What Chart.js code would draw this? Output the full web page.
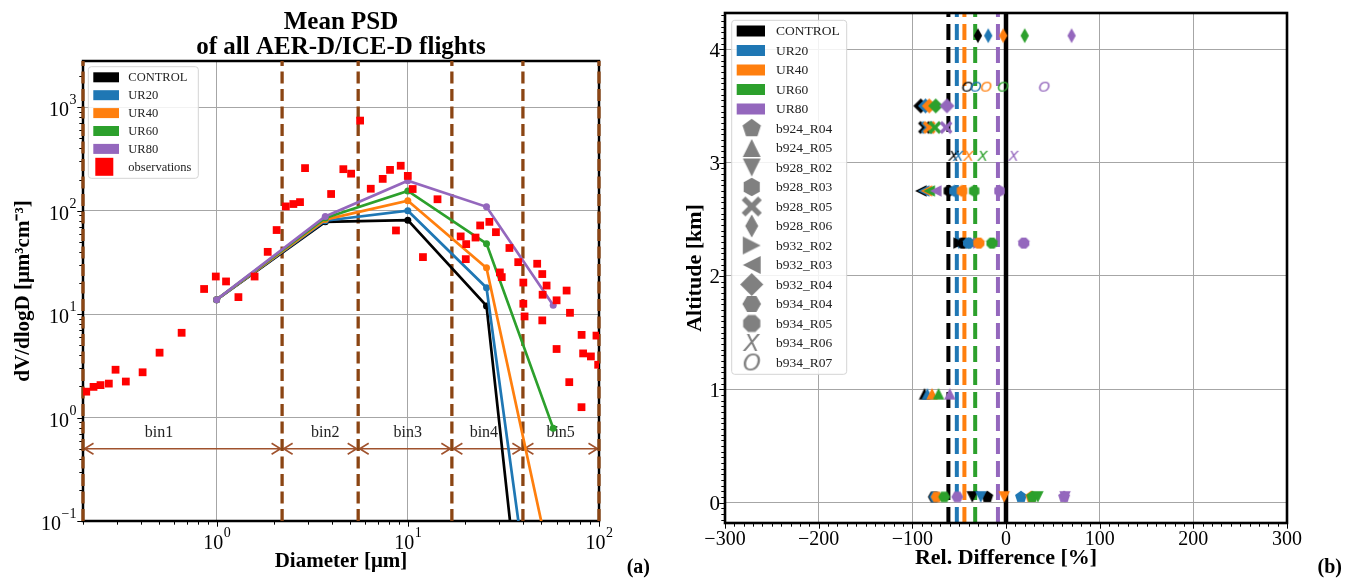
<!DOCTYPE html>
<html>
<head>
  <title>Mean PSD and relative difference</title>
  <script src="https://cdn.jsdelivr.net/npm/chart.js"></script>
  <style>
    body { margin: 0; background: #fff; overflow: hidden; }
    #wrap { position: relative; width: 1345px; height: 580px; }
    #wrap canvas { position: absolute; top: 0; }
    #psdChart { left: 0; }
    #diffChart { left: 665px; }
  </style>
</head>
<body>
<div id="wrap">
  <canvas id="psdChart" width="665" height="580"></canvas>
  <canvas id="diffChart" width="680" height="580"></canvas>
</div>
<script>
const SERIF = '"Liberation Serif", "Times New Roman", serif';
Chart.defaults.font.family = SERIF;
Chart.defaults.color = '#000';

const scenarios = ['CONTROL', 'UR20', 'UR40', 'UR60', 'UR80'];
const scenarioColors = ['#000000', '#1f77b4', '#ff7f0e', '#2ca02c', '#9467bd'];

// ---------- (a) mean PSD ----------
const modelD = [1, 3.7, 10, 25.8, 57.6];
const psdCONTROL = [13.8, 78, 81, 12, 1.5e-5];
const psdUR20 = [13.8, 80, 100, 18, 3.4e-4];
const psdUR40 = [13.8, 82, 125, 28, 0.029];
const psdUR60 = [13.8, 85, 155, 48, 0.79];
const psdUR80 = [13.8, 88, 195, 109, 12.2];

const obsD = [0.208, 0.227, 0.247, 0.273, 0.296, 0.335, 0.41, 0.503, 0.656, 0.86,
  0.99, 1.12, 1.3, 1.58, 1.85, 2.06, 2.3, 2.52, 2.73, 2.9,
  3.97, 4.6, 5.05, 5.63, 6.4, 7.39, 8.07, 9.18, 10, 10.6,
  8.67, 12, 14.3, 18.9, 20.2, 20.1, 22.6, 23.9, 26.7, 28.9,
  30.3, 31, 34, 37.8, 40.2, 40.2, 40.8, 47.5, 50.5, 53.2,
  50.7, 50.5, 60, 67.7, 70.5, 60, 81.1, 97, 82.6, 90.7,
  69.9, 81, 99];
const obsV = [1.78, 1.98, 2.06, 2.13, 2.9, 2.23, 2.74, 4.24, 6.6, 17.5,
  23.1, 20.7, 14.6, 23.1, 40, 65, 110, 116, 121, 258,
  145, 252, 228, 743, 163, 203, 248, 272, 217, 162,
  64.4, 35.6, 129, 56.4, 47.5, 34, 55, 72, 78, 62,
  25.3, 22.8, 43.6, 31.8, 20.2, 12.6, 9.5, 30.7, 24.4, 18.9,
  15.4, 8.7, 13.6, 16.9, 10.3, 4.6, 6.3, 6.2, 4.17, 3.9,
  2.2, 1.26, 3.24];

const binEdges = [0.2, 2.2, 5.5, 17, 40, 100];
const binNames = ['bin1', 'bin2', 'bin3', 'bin4', 'bin5'];
const binLabelD = [0.5, 3.7, 10, 25, 63];
const binArrowV = 0.5;
const binLabelV = 0.72;
const psdXDecades = [0, 1, 2];
const psdYDecades = [-1, 0, 1, 2, 3];

// ---------- (b) relative difference per flight leg ----------
const flights = ['b924_R04', 'b924_R05', 'b928_R02', 'b928_R03', 'b928_R05', 'b928_R06', 'b932_R02',
  'b932_R03', 'b932_R04', 'b934_R04', 'b934_R05', 'b934_R06', 'b934_R07'];
const flightMarker = ['p', '^', 'v', 'h', 'X', 'd', '>', '<', 'D', 'H', '8', '$X$', '$O$'];
const flightAlt = [0.05, 0.96, 0.05, 2.75, 3.31, 4.12, 2.29, 2.75, 3.5, 0.05, 2.29, 3.06, 3.67];
const relCONTROL = [-20, -87, -36, -61, -87, -30, -50, -91, -91, -77, -46, -56, -41];
const relUR20 = [16, -84, -27, -55, -84, -19, -45, -88, -86, -76, -40, -51, -32];
const relUR40 = [27, -79, -2, -47, -82, -3, -40, -85, -82, -74, -29, -40, -21];
const relUR60 = [28, -72, 34, -34, -76, 20, -34, -82, -75, -66, -15, -25, -3];
const relUR80 = [62, -60, 63, -7, -64, 70, -29, -75, -63, -52, 19, 8, 41];
const meanDiff = [-61.5, -52.5, -44.4, -32.9, -8.6];
const diffXTicks = [-300, -200, -100, 0, 100, 200, 300];
const altTicks = [0, 1, 2, 3, 4];

// ---------- helpers ----------
function logTicks(min, max) {
  const out = [];
  for (let d = Math.floor(Math.log10(min)); d <= Math.ceil(Math.log10(max)); d++) {
    for (let k = 1; k <= 9; k++) {
      const v = k * Math.pow(10, d);
      if (v >= min * 0.9999 && v <= max * 1.0001) out.push({ value: v, major: k === 1 });
    }
  }
  return out;
}

function linTicks(min, max, step, majors) {
  const out = [];
  for (let k = Math.ceil(min / step - 1e-9); k * step <= max + 1e-9; k++) {
    const v = +(k * step).toFixed(6);
    out.push({ value: v, major: majors.includes(v) });
  }
  return out;
}

const gridColor = c => (c.tick && c.tick.major) ? '#a6a6a6' : 'rgba(0,0,0,0)';

function drawFrame(chart, lw) {
  const { ctx, chartArea: a } = chart;
  ctx.save();
  ctx.strokeStyle = '#000';
  ctx.lineWidth = lw;
  ctx.strokeRect(a.left, a.top, a.right - a.left, a.bottom - a.top);
  ctx.restore();
}

function drawTicks(chart, majorLen, minorLen) {
  const { ctx, chartArea: a, scales: { x, y } } = chart;
  ctx.save();
  ctx.strokeStyle = '#000';
  ctx.lineWidth = 1;
  ctx.beginPath();
  x.ticks.forEach(t => {
    const px = Math.round(x.getPixelForValue(t.value)) + 0.5;
    ctx.moveTo(px, a.bottom);
    ctx.lineTo(px, a.bottom + 1.2 + (t.major ? majorLen : minorLen));
  });
  y.ticks.forEach(t => {
    const py = Math.round(y.getPixelForValue(t.value)) + 0.5;
    ctx.moveTo(a.left, py);
    ctx.lineTo(a.left - 1.2 - (t.major ? majorLen : minorLen), py);
  });
  ctx.stroke();
  ctx.restore();
}

// "10" with a raised exponent
function powLabel(ctx, exp, x, yBase, align) {
  const e = exp < 0 ? '\u2212' + (-exp) : String(exp);
  ctx.font = `20px ${SERIF}`;
  const w1 = ctx.measureText('10').width;
  ctx.font = `14px ${SERIF}`;
  const w2 = ctx.measureText(e).width;
  const x0 = align === 'center' ? x - (w1 + w2) / 2 : x - (w1 + w2);
  ctx.textAlign = 'left';
  ctx.textBaseline = 'alphabetic';
  ctx.font = `20px ${SERIF}`;
  ctx.fillText('10', x0, yBase);
  ctx.font = `14px ${SERIF}`;
  ctx.fillText(e, x0 + w1 + 0.5, yBase - 12);
}

function legendBox(ctx, x, y, w, h) {
  ctx.beginPath();
  if (ctx.roundRect) ctx.roundRect(x, y, w, h, 3); else ctx.rect(x, y, w, h);
  ctx.fillStyle = 'rgba(255,255,255,0.85)';
  ctx.fill();
  ctx.strokeStyle = '#d4d4d4';
  ctx.lineWidth = 1;
  ctx.stroke();
}

// filled marker shapes drawn once into small canvases, used as pointStyle
function markerCanvas(shape, color, size) {
  const c = document.createElement('canvas');
  const w = Math.ceil(size * 1.9) + 2;
  c.width = w;
  c.height = w;
  const g = c.getContext('2d');
  const r = size / 2;
  g.translate(w / 2, w / 2);
  g.fillStyle = color;
  if (shape[0] === '$') {
    const fs = size * 1.3;
    g.font = `italic ${fs}px "DejaVu Sans", sans-serif`;
    g.textAlign = 'center';
    g.textBaseline = 'alphabetic';
    g.fillText(shape[1], 0, fs * 0.365);
    return c;
  }
  const poly = pts => {
    g.beginPath();
    pts.forEach(([px, py], i) => i ? g.lineTo(px * r, py * r) : g.moveTo(px * r, py * r));
    g.closePath();
    g.fill();
  };
  const ngon = (n, rot) => Array.from({ length: n }, (_, k) => {
    const t = rot + k * 2 * Math.PI / n;
    return [Math.cos(t), Math.sin(t)];
  });
  switch (shape) {
    case '^': poly([[0, -1], [-1, 1], [1, 1]]); break;
    case 'v': poly([[0, 1], [-1, -1], [1, -1]]); break;
    case '<': poly([[-1, 0], [1, -1], [1, 1]]); break;
    case '>': poly([[1, 0], [-1, -1], [-1, 1]]); break;
    case 'p': poly(ngon(5, -Math.PI / 2)); break;
    case 'h': poly(ngon(6, -Math.PI / 2)); break;
    case 'H': poly(ngon(6, 0)); break;
    case '8': poly(ngon(8, Math.PI / 8)); break;
    case 'D': poly([[0, -1.15], [1.15, 0], [0, 1.15], [-1.15, 0]]); break;
    case 'd': poly([[0, -1.1], [0.62, 0], [0, 1.1], [-0.62, 0]]); break;
    case 'X': {
      const t = 0.3, L = 1.3;
      g.rotate(Math.PI / 4);
      poly([[-t, -L], [t, -L], [t, -t], [L, -t], [L, t], [t, t], [t, L], [-t, L], [-t, t], [-L, t], [-L, -t], [-t, -t]]);
      break;
    }
  }
  return c;
}

// ---------- chart (a) ----------
const psdModel = [psdCONTROL, psdUR20, psdUR40, psdUR60, psdUR80];
const psdMin = 0.1, psdMax = 2800;

const psdSets = [];
binEdges.forEach(e => psdSets.push({
  data: [{ x: e, y: psdMin }, { x: e, y: psdMax }],
  showLine: true, borderColor: '#8b4513', borderWidth: 3.3, borderDash: [12, 5.5],
  pointRadius: 0, clip: 4
}));
psdModel.forEach((vals, i) => psdSets.push({
  label: scenarios[i],
  data: modelD.map((d, j) => ({ x: d, y: vals[j] })),
  showLine: true, borderColor: scenarioColors[i], borderWidth: 2.7,
  pointRadius: 3.5, pointBorderWidth: 0, pointBackgroundColor: scenarioColors[i]
}));
psdSets.push({
  label: 'observations',
  data: obsD.map((d, j) => ({ x: d, y: obsV[j] })),
  pointStyle: 'rect', pointRadius: 5.5, pointBorderWidth: 0, pointBackgroundColor: '#ff0000'
});
psdSets.forEach((s, i) => { s.order = -i; });

const psdDecor = {
  id: 'psdDecor',
  beforeDatasetsDraw(chart) {
    const { ctx, scales: { x, y } } = chart;
    ctx.save();
    ctx.strokeStyle = '#a0522d';
    ctx.lineWidth = 1.6;
    const ay = y.getPixelForValue(binArrowV);
    for (let i = 0; i < binNames.length; i++) {
      const x1 = x.getPixelForValue(binEdges[i]) + 1.5;
      const x2 = x.getPixelForValue(binEdges[i + 1]) - 1.5;
      ctx.beginPath();
      ctx.moveTo(x1, ay); ctx.lineTo(x2, ay);
      ctx.moveTo(x1 + 9, ay - 5.5); ctx.lineTo(x1, ay); ctx.lineTo(x1 + 9, ay + 5.5);
      ctx.moveTo(x2 - 9, ay - 5.5); ctx.lineTo(x2, ay); ctx.lineTo(x2 - 9, ay + 5.5);
      ctx.stroke();
    }
    ctx.fillStyle = '#222';
    ctx.font = `16px ${SERIF}`;
    ctx.textAlign = 'center';
    ctx.textBaseline = 'middle';
    binNames.forEach((n, i) => ctx.fillText(n, x.getPixelForValue(binLabelD[i]), y.getPixelForValue(binLabelV)));
    ctx.restore();
    drawFrame(chart, 2.5);
    drawTicks(chart, 4.5, 2.5);
  },
  afterDatasetsDraw(chart) {
    const { ctx, chartArea: a, scales: { x, y } } = chart;
    ctx.save();
    ctx.fillStyle = '#000';
    psdXDecades.forEach(d => powLabel(ctx, d, x.getPixelForValue(Math.pow(10, d)), a.bottom + 28, 'center'));
    psdYDecades.forEach(d => powLabel(ctx, d, a.left - 7, y.getPixelForValue(Math.pow(10, d)) + 9, 'right'));

    // title
    const cx = (a.left + a.right) / 2;
    ctx.font = `bold 25px ${SERIF}`;
    ctx.textAlign = 'center';
    ctx.textBaseline = 'middle';
    ctx.fillText('Mean PSD', cx, 23);
    ctx.fillText('of all AER-D/ICE-D flights', cx, 48);

    // legend
    const lx = a.left + 5.3, ly = a.top + 5.7;
    legendBox(ctx, lx, ly, 110, 111.6);
    ctx.font = `12.5px ${SERIF}`;
    ctx.textAlign = 'left';
    [...scenarios, 'observations'].forEach((name, i) => {
      const ey = ly + 10.6 + i * 17.9;
      if (i < scenarios.length) {
        ctx.fillStyle = scenarioColors[i];
        ctx.fillRect(lx + 5, ey - 5, 25.7, 10);
      } else {
        ctx.fillStyle = '#ff0000';
        ctx.fillRect(lx + 7, ey - 9, 18, 18);
      }
      ctx.fillStyle = '#222';
      ctx.fillText(name, lx + 40, ey + 0.5);
    });

    ctx.fillStyle = '#000';
    ctx.font = `bold 20px ${SERIF}`;
    ctx.textAlign = 'right';
    ctx.textBaseline = 'alphabetic';
    ctx.fillText('(a)', 650, 573);
    ctx.restore();
  }
};

new Chart(document.getElementById('psdChart'), {
  type: 'scatter',
  data: { datasets: psdSets },
  options: {
    responsive: false,
    animation: false,
    events: [],
    layout: { padding: { left: 0, right: 66, top: 61, bottom: 0 } },
    plugins: { legend: { display: false }, tooltip: { enabled: false } },
    scales: {
      x: {
        type: 'logarithmic', min: binEdges[0], max: binEdges[binEdges.length - 1], bounds: 'data',
        afterBuildTicks: s => { s.ticks = logTicks(s.min, s.max); },
        afterFit: s => { s.height = 59; },
        ticks: { display: false },
        grid: { color: gridColor, lineWidth: 1, drawTicks: false },
        border: { display: false },
        title: {
          display: true, text: 'Diameter [μm]', color: '#000',
          font: { family: SERIF, size: 21, weight: 'bold' }, padding: { top: 0, bottom: 5.5 }
        }
      },
      y: {
        type: 'logarithmic', min: psdMin, max: psdMax, bounds: 'data',
        afterBuildTicks: s => { s.ticks = logTicks(psdMin, psdMax); },
        afterFit: s => { s.width = 83; },
        ticks: { display: false },
        grid: { color: gridColor, lineWidth: 1, drawTicks: false },
        border: { display: false },
        title: {
          display: true, text: 'dV/dlogD [μm³cm⁻³]', color: '#000',
          font: { family: SERIF, size: 21, weight: 'bold' }, padding: { top: 11.4, bottom: 0 }
        }
      }
    }
  },
  plugins: [psdDecor]
});

// ---------- chart (b) ----------
const relBy = [relCONTROL, relUR20, relUR40, relUR60, relUR80];
const altMin = -0.18, altMax = 4.32;
const markerSize = { p: 12.5, '^': 11.5, v: 11.5, '<': 11.5, '>': 11.5, h: 12, H: 12, X: 11.5, '8': 12,
  d: 13.5, D: 13, '$X$': 11.5, '$O$': 11.5 };

const diffSets = [];
meanDiff.forEach((m, i) => diffSets.push({
  label: scenarios[i],
  data: [{ x: m, y: altMin }, { x: m, y: altMax }],
  showLine: true, borderColor: scenarioColors[i], borderWidth: 4, borderDash: [16, 7], pointRadius: 0
}));
diffSets.push({
  data: [{ x: 0, y: altMin }, { x: 0, y: altMax }],
  showLine: true, borderColor: '#000', borderWidth: 4.5, pointRadius: 0
});
flights.forEach((f, i) => {
  const size = markerSize[flightMarker[i]];
  diffSets.push({
    label: f,
    data: relBy.map(vals => ({ x: vals[i], y: flightAlt[i] })),
    pointRadius: 6,
    pointStyle: scenarioColors.map(col => markerCanvas(flightMarker[i], col, size))
  });
});
diffSets.forEach((s, i) => { s.order = -i; });

const legendMarkers = flightMarker.map(m => markerCanvas(m, '#808080', markerSize[m] * 1.55));

const diffDecor = {
  id: 'diffDecor',
  afterDatasetsDraw(chart) {
    const { ctx, chartArea: a, scales: { x, y } } = chart;
    drawFrame(chart, 2.6);
    drawTicks(chart, 4.5, 2.5);
    ctx.save();
    ctx.fillStyle = '#000';
    ctx.font = `20px ${SERIF}`;
    ctx.textBaseline = 'alphabetic';
    ctx.textAlign = 'center';
    diffXTicks.forEach(v => ctx.fillText(v < 0 ? '\u2212' + (-v) : String(v), x.getPixelForValue(v), a.bottom + 22));
    ctx.font = `21px ${SERIF}`;
    ctx.textAlign = 'right';
    altTicks.forEach(v => ctx.fillText(String(v), a.left - 5, y.getPixelForValue(v) + 7.5));

    // legend
    const lx = a.left + 6.7, ly = a.top + 7.3;
    legendBox(ctx, lx, ly, 115, 354);
    ctx.font = `13.5px ${SERIF}`;
    ctx.textAlign = 'left';
    ctx.textBaseline = 'middle';
    [...scenarios, ...flights].forEach((name, i) => {
      const ey = ly + 10.7 + i * 19.5;
      if (i < scenarios.length) {
        ctx.fillStyle = scenarioColors[i];
        ctx.fillRect(lx + 5, ey - 5.5, 28.3, 11);
      } else {
        const m = legendMarkers[i - scenarios.length];
        ctx.drawImage(m, lx + 20 - m.width / 2, ey - m.height / 2);
      }
      ctx.fillStyle = '#222';
      ctx.fillText(name, lx + 44.3, ey + 0.5);
    });

    ctx.fillStyle = '#000';
    ctx.font = `bold 20px ${SERIF}`;
    ctx.textAlign = 'right';
    ctx.textBaseline = 'alphabetic';
    ctx.fillText('(b)', 677, 573);
    ctx.restore();
  }
};

new Chart(document.getElementById('diffChart'), {
  type: 'scatter',
  data: { datasets: diffSets },
  options: {
    responsive: false,
    animation: false,
    events: [],
    layout: { padding: { left: 0, right: 58, top: 13, bottom: 0 } },
    plugins: { legend: { display: false }, tooltip: { enabled: false } },
    scales: {
      x: {
        type: 'linear', min: diffXTicks[0], max: diffXTicks[diffXTicks.length - 1],
        afterBuildTicks: s => { s.ticks = linTicks(s.min, s.max, 10, diffXTicks); },
        afterFit: s => { s.height = 57; },
        ticks: { display: false },
        grid: { color: gridColor, lineWidth: 1, drawTicks: false },
        border: { display: false },
        title: {
          display: true, text: 'Rel. Difference [%]', color: '#000',
          font: { family: SERIF, size: 22, weight: 'bold' }, padding: { top: 0, bottom: 8.8 }
        }
      },
      y: {
        type: 'linear', min: altMin, max: altMax,
        afterBuildTicks: s => { s.ticks = linTicks(altMin, altMax, 0.05, altTicks); },
        afterFit: s => { s.width = 60; },
        ticks: { display: false },
        grid: { color: gridColor, lineWidth: 1, drawTicks: false },
        border: { display: false },
        title: {
          display: true, text: 'Altitude [km]', color: '#000',
          font: { family: SERIF, size: 22, weight: 'bold' }, padding: { top: 17, bottom: 0 }
        }
      }
    }
  },
  plugins: [diffDecor]
});
</script>
</body>
</html>
